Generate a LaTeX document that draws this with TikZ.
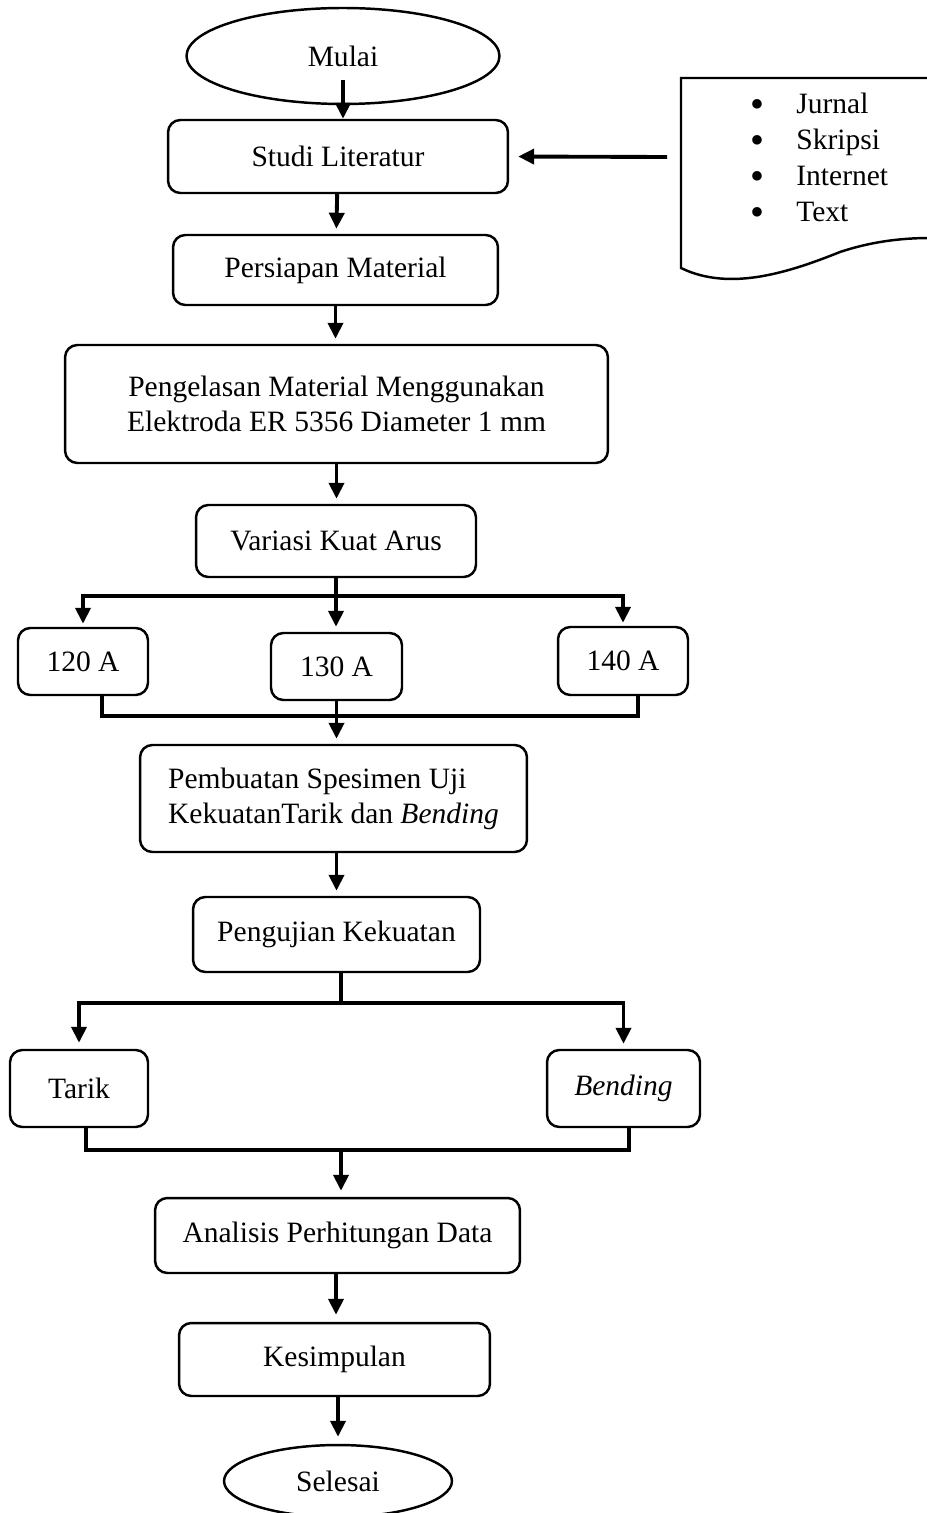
\documentclass[tikz,border=0pt]{standalone}
\usepackage{fontspec}
\setmainfont{Liberation Serif}
\usepackage{tikz}
\usetikzlibrary{shapes,arrows.meta,positioning,calc}

\begin{document}
\begin{tikzpicture}[
    x=0.02cm, y=-0.02cm,
    box/.style={rectangle, rounded corners=7pt, draw, line width=1.4pt,
                inner sep=0pt, align=center, font=\fontsize{16.8}{20}\selectfont},
    term/.style={ellipse, draw, line width=1.4pt, inner sep=0pt,
                 font=\fontsize{16.8}{20}\selectfont},
    item/.style={anchor=base west, inner sep=0pt, font=\fontsize{16.8}{20}\selectfont},
    line/.style={line width=2.2pt},
    arrow/.style={-{Triangle[length=0.32cm, width=0.3cm]}, line width=2.2pt}
]
\useasboundingbox (0,0) rectangle (926,1513);

\node[term, minimum width=6.26cm, minimum height=1.92cm] (mulai) at (343,56) {Mulai};
\node[box, minimum width=6.8cm,  minimum height=1.46cm] (studi)     at (338,156.5) {Studi Literatur};
\node[box, minimum width=6.5cm,  minimum height=1.4cm]  (persiapan) at (335.5,270) {Persiapan Material};
\node[box, minimum width=10.86cm, minimum height=2.36cm] (las)      at (336.5,404)
    {Pengelasan Material Menggunakan\\Elektroda ER 5356 Diameter 1 mm};
\node[box, minimum width=5.6cm,  minimum height=1.44cm] (variasi)   at (336,541) {Variasi Kuat Arus};
\node[box, minimum width=2.6cm,  minimum height=1.34cm] (a120)      at (83,661.5) {120 A};
\node[box, minimum width=2.62cm, minimum height=1.34cm] (a130)      at (336.5,666.5) {130 A};
\node[box, minimum width=2.6cm,  minimum height=1.36cm] (a140)      at (623,661) {140 A};
\node[box, minimum width=7.74cm, minimum height=2.14cm, align=left] (spesimen) at (333.5,798.5)
    {Pembuatan Spesimen Uji\\KekuatanTarik dan \textit{Bending}};
\node[box, minimum width=5.74cm, minimum height=1.5cm]  (uji)       at (336.5,934.5) {Pengujian Kekuatan};
\node[box, minimum width=2.76cm, minimum height=1.54cm] (tarik)     at (79,1088.5) {Tarik};
\node[box, minimum width=3.06cm, minimum height=1.54cm] (bending)   at (623.5,1088.5) {\textit{Bending}};
\node[box, minimum width=7.3cm,  minimum height=1.5cm]  (analisis)  at (337.5,1235.5) {Analisis Perhitungan Data};
\node[box, minimum width=6.22cm, minimum height=1.46cm] (simpul)    at (334.5,1359.5) {Kesimpulan};
\node[term, minimum width=4.56cm, minimum height=1.44cm] (selesai) at (338,1481) {Selesai};

% sumber literatur
\draw[line width=1.4pt] (930,78) -- (681,78) -- (681,268)
    .. controls (730,292) and (790,272) .. (840,252)
    .. controls (870,242) and (900,238) .. (930,238);
\node[item] (jurnal)   at (750,114) {\makebox[0.92cm][l]{\raisebox{-0.25ex}{\scalebox{1.35}{\textbullet}}}Jurnal};
\node[item] (skripsi)  at (750,150) {\makebox[0.92cm][l]{\raisebox{-0.25ex}{\scalebox{1.35}{\textbullet}}}Skripsi};
\node[item] (internet) at (750,186) {\makebox[0.92cm][l]{\raisebox{-0.25ex}{\scalebox{1.35}{\textbullet}}}Internet};
\node[item] (text)     at (750,222) {\makebox[0.92cm][l]{\raisebox{-0.25ex}{\scalebox{1.35}{\textbullet}}}Text};
\coordinate (sumber) at (667,157);

\coordinate (mulai1) at (343,80);
\coordinate (v1) at (336,596);
\coordinate (m1) at (337,716);
\coordinate (p1) at (341,1003);
\coordinate (t1) at (341,1150);

\draw[arrow] (mulai1) -- (mulai1 |- studi.north);
\draw[arrow, shorten >=0.18cm] (sumber) -- (studi.east);
\draw[arrow, shorten >=0.1cm] (studi) -- (persiapan);
\draw[arrow, shorten >=0.1cm] (persiapan.south) -- (persiapan.south |- las.north);
\draw[arrow, shorten >=0.1cm] (las.south) -- (las.south |- variasi.north);

\draw[line] (variasi.south) -- (v1);
\draw[arrow, shorten >=0.06cm] (v1) -| (a120.north);
\draw[arrow, shorten >=0.1cm] (v1) -- (v1 |- a130.north);
\draw[arrow, shorten >=0.06cm] (v1) -| (a140.north);
\draw[line] ([xshift=0.38cm]a120.south) |- (m1);
\draw[line] ([xshift=0.3cm]a140.south) |- (m1);
\draw[arrow, shorten >=0.1cm] (a130.south) -- (a130.south |- spesimen.north);

\draw[arrow, shorten >=0.1cm] (spesimen.south -| uji) -- (uji);
\draw[line] (uji.south -| p1) -- (p1);
\draw[arrow, shorten >=0.12cm] (p1) -| (tarik.north);
\draw[arrow, shorten >=0.1cm] (p1) -| (bending.north);
\draw[line] ([xshift=0.14cm]tarik.south) |- (t1);
\draw[line] ([xshift=0.11cm]bending.south) |- (t1);
\draw[arrow, shorten >=0.12cm] (t1) -- (t1 |- analisis.north);

\draw[arrow, shorten >=0.14cm] (analisis.south -| 336,0) -- (simpul.north -| 336,0);
\draw[arrow, shorten >=0.14cm] (simpul.south -| 338,0) -- (selesai.north -| 338,0);
\end{tikzpicture}
\end{document}
